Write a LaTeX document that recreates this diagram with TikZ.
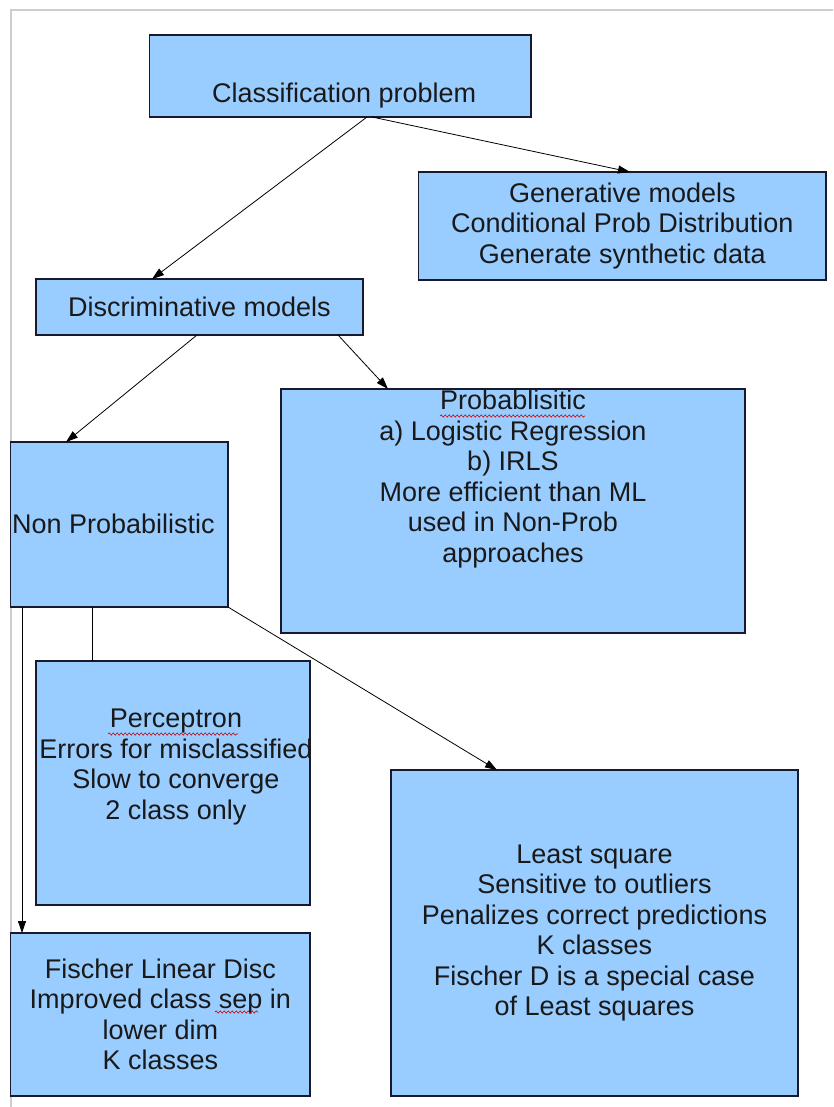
\documentclass[tikz,border=0pt]{standalone}
\usepackage{fontspec}
\setmainfont{Liberation Sans}
\usetikzlibrary{arrows.meta,calc,decorations.pathmorphing}
\definecolor{boxfill}{RGB}{153,204,255}
\definecolor{boxline}{RGB}{25,25,45}
\definecolor{pageline}{RGB}{205,205,205}
\begin{document}
\begin{tikzpicture}[x=1pt,y=-1pt,
  box/.style={draw=boxline, fill=boxfill, line width=1.2pt, inner sep=0pt, outer sep=0pt, align=center, font=\fontsize{27}{30.5}\selectfont, text=black!90},
  txt/.style={inner sep=0pt, align=center, font=\fontsize{27}{30.5}\selectfont, text=black!90},
  conn/.style={draw=black, line width=0.8pt},
  arr/.style={conn, -{Triangle[length=12pt,width=8pt]}},
  spell/.style={draw=red!80!black, line width=0.6pt, decorate, decoration={snake, amplitude=1.1pt, segment length=4pt}}
]
\useasboundingbox (0,0) rectangle (833,1107);
\fill[white] (0,0) rectangle (833,1107);
\draw[pageline, line width=1.5pt] (11,1107) -- (11,10) -- (833,10);

\node[box, minimum width=381.5pt, minimum height=82pt] (cls) at (340.25,76) {};
\node[txt, anchor=base west] (clst) at (212,103) {Classification problem};
\node[box, minimum width=407.4pt, minimum height=108pt] (gen) at (622.3,226) {Generative models\\Conditional Prob Distribution\\Generate synthetic data};
\node[box, minimum width=327pt, minimum height=56pt] (disc) at (199.5,307) {Discriminative models};
\node[box, minimum width=217.4pt, minimum height=165pt] (np) at (119.3,524.5) {};
\node[txt, anchor=west] (npt) at (12,524) {Non Probabilistic};
\node[box, minimum width=464pt, minimum height=244pt] (prob) at (513,511) {};
\node[txt] (probt) at (513,479) {Probablisitic\\a) Logistic Regression\\b) IRLS\\More efficient than ML\\used in Non-Prob\\approaches};
\node[box, minimum width=274pt, minimum height=244pt] (perc) at (173,783) {};
\begin{scope}
\clip (perc.south west) rectangle (perc.north east);
\node[txt] (perct) at (176,767) {Perceptron\\Errors for misclassified\\Slow to converge\\2 class only};
\end{scope}
\node[box, minimum width=299.4pt, minimum height=163pt] (fis) at (160.3,1014.5) {Fischer Linear Disc\\Improved class sep in\\lower dim\\K classes};
\node[box, minimum width=407pt, minimum height=326pt] (lsq) at (594.5,933) {Least square\\Sensitive to outliers\\Penalizes correct predictions\\K classes\\Fischer D is a special case\\of Least squares};

\draw[arr] ([xshift=26.75pt]cls.south) -- ([xshift=-47.5pt]disc.north);
\draw[arr] ([xshift=31.75pt]cls.south) -- ([xshift=7.7pt]gen.north);
\draw[arr] ([xshift=-2.5pt]disc.south) -- ([xshift=-53.3pt]np.north);
\draw[arr] ([xshift=138.5pt]disc.south) -- ([xshift=-125pt]prob.north);
\draw[arr] (np.south east) -- ([xshift=-97.5pt]lsq.north);
\draw[arr] ([xshift=11.4pt]np.south west) -- ([xshift=11.4pt]fis.north west);
\draw[conn] ([xshift=81.4pt]np.south west) -- ([xshift=56pt]perc.north west);

\draw[spell] (440,416) -- (585,416);
\draw[spell] (108,734) -- (238,734);
\draw[spell] (215,1012) -- (258,1012);
\end{tikzpicture}
\end{document}
